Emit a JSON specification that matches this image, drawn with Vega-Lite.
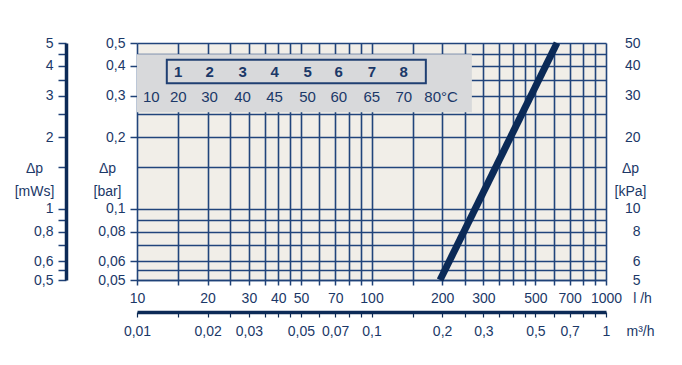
{
  "$schema": "https://vega.github.io/schema/vega-lite/v6.json",
  "width": 469,
  "height": 237,
  "autosize": {"type": "none"},
  "padding": {"left": 137, "top": 43, "right": 76, "bottom": 85},
  "background": "#ffffff",
  "config": {
    "font": "Liberation Sans",
    "view": {"fill": "#f1eee8", "stroke": null},
    "axis": {
      "labelFont": "Liberation Sans",
      "labelFontSize": 14,
      "labelColor": "#1b3868",
      "titleFont": "Liberation Sans",
      "titleFontSize": 14,
      "titleFontWeight": "normal",
      "titleColor": "#1b3868",
      "tickColor": "#1f4177",
      "domainColor": "#1f4177",
      "labelOverlap": false,
      "labelFlush": false,
      "labelBound": false
    }
  },
  "resolve": {"axis": {"x": "independent", "y": "independent"}},
  "layer": [
    {
      "data": {"values": [{"q1": 10, "q2": 268, "p1": 0.255, "p2": 0.448}]},
      "mark": {"type": "rect", "fill": "#d8d9db"},
      "encoding": {
        "x": {
          "field": "q1", "type": "quantitative",
          "scale": {"type": "log", "domain": [10, 1000], "nice": false},
          "axis": {
            "orient": "bottom",
            "values": [10,15,20,25,30,35,40,45,50,60,70,80,90,100,150,200,250,300,350,400,450,500,600,700,800,900,1000],
            "grid": true, "gridColor": "#21447b", "gridWidth": 1.6, "gridOpacity": 1,
            "domain": true, "domainWidth": 1.6,
            "ticks": true, "tickSize": 5, "tickWidth": 1.5,
            "labelBaseline": "middle", "labelPadding": 13,
            "labelExpr": "indexof([10,20,30,40,50,70,100,200,300,500,700,1000], datum.value) >= 0 ? format(datum.value, 'd') : ''",
            "title": "l /h", "titleX": 505, "titleY": 18, "titleBaseline": "middle", "titleAlign": "center"
          }
        },
        "x2": {"field": "q2"},
        "y": {
          "field": "p1", "type": "quantitative",
          "scale": {"type": "log", "domain": [0.05, 0.5], "nice": false},
          "axis": {
            "orient": "left",
            "values": [0.05,0.055,0.06,0.07,0.08,0.09,0.1,0.15,0.2,0.25,0.3,0.35,0.4,0.45,0.5],
            "grid": true, "gridColor": "#21447b", "gridWidth": 1.6, "gridOpacity": 1,
            "domain": false, "ticks": false, "labels": false, "title": null
          }
        },
        "y2": {"field": "p2"}
      }
    },
    {
      "data": {"values": [{"q1": 13.4, "q2": 170.5, "p1": 0.338, "p2": 0.425}]},
      "mark": {"type": "rect", "fill": null, "stroke": "#1f3f72", "strokeWidth": 2},
      "encoding": {
        "x": {
          "field": "q1", "type": "quantitative",
          "axis": {
            "orient": "bottom", "offset": 32,
            "values": [10,15,20,25,30,35,40,45,50,60,70,80,90,100,150,200,250,300,350,400,450,500,600,700,800,900,1000],
            "grid": false,
            "domain": true, "domainWidth": 3.5, "domainColor": "#0c2a56",
            "ticks": true, "tickSize": 5, "tickWidth": 1.2, "tickColor": "#0c2a56",
            "labelBaseline": "middle", "labelPadding": 14,
            "labelExpr": "indexof([10,20,30,50,70,100,200,300,500,700,1000], datum.value) >= 0 ? replace(format(datum.value/1000, '~g'), '.', ',') : ''",
            "title": "m³/h", "titleX": 503, "titleY": 19, "titleBaseline": "middle", "titleAlign": "center"
          }
        },
        "x2": {"field": "q2"},
        "y": {
          "field": "p1", "type": "quantitative",
          "axis": {
            "orient": "left",
            "values": [0.05,0.06,0.08,0.1,0.2,0.3,0.4,0.5],
            "grid": false, "domain": false,
            "ticks": true, "tickSize": 7, "tickWidth": 1.5,
            "labelPadding": 5, "labelBaseline": "middle",
            "labelExpr": "replace(format(datum.value, '~g'), '.', ',')",
            "title": ["Δp", "[bar]"], "titleAngle": 0, "titleX": -30, "titleY": 125,
            "titleBaseline": "middle", "titleAlign": "center", "titleLineHeight": 23
          }
        },
        "y2": {"field": "p2"}
      }
    },
    {
      "data": {"values": [
        {"label": "1", "q": 15.0, "p": 0.377},
        {"label": "2", "q": 20.4, "p": 0.377},
        {"label": "3", "q": 28.2, "p": 0.377},
        {"label": "4", "q": 38.6, "p": 0.377},
        {"label": "5", "q": 53.4, "p": 0.377},
        {"label": "6", "q": 72.5, "p": 0.377},
        {"label": "7", "q": 100.3, "p": 0.377},
        {"label": "8", "q": 137.3, "p": 0.377}
      ]},
      "mark": {"type": "text", "fontWeight": "bold", "fontSize": 15, "color": "#1b3868", "align": "center", "baseline": "middle"},
      "encoding": {
        "x": {"field": "q", "type": "quantitative", "axis": null},
        "y": {
          "field": "p", "type": "quantitative",
          "axis": {
            "orient": "left", "offset": 71,
            "values": [0.05,0.055,0.06,0.07,0.08,0.09,0.1,0.15,0.2,0.25,0.3,0.35,0.4,0.45,0.5],
            "grid": false,
            "domain": true, "domainWidth": 3.5, "domainColor": "#0c2a56",
            "ticks": true, "tickSize": 8, "tickWidth": 1.5, "tickColor": "#1f4177",
            "labelPadding": 5, "labelBaseline": "middle",
            "labelExpr": "indexof([0.05,0.06,0.08,0.1,0.2,0.3,0.4,0.5], datum.value) >= 0 ? replace(format(datum.value*10, '~g'), '.', ',') : ''",
            "title": ["Δp", "[mWs]"], "titleAngle": 0, "titleX": -32, "titleY": 125,
            "titleBaseline": "middle", "titleAlign": "center", "titleLineHeight": 23
          }
        },
        "text": {"field": "label"}
      }
    },
    {
      "data": {"values": [
        {"label": "10", "q": 11.5, "p": 0.296},
        {"label": "20", "q": 15.0, "p": 0.296},
        {"label": "30", "q": 20.4, "p": 0.296},
        {"label": "40", "q": 28.2, "p": 0.296},
        {"label": "45", "q": 38.6, "p": 0.296},
        {"label": "50", "q": 53.4, "p": 0.296},
        {"label": "60", "q": 72.5, "p": 0.296},
        {"label": "65", "q": 100.3, "p": 0.296},
        {"label": "70", "q": 137.3, "p": 0.296},
        {"label": "80°C", "q": 198, "p": 0.296}
      ]},
      "mark": {"type": "text", "fontSize": 15, "color": "#1b3868", "align": "center", "baseline": "middle"},
      "encoding": {
        "x": {"field": "q", "type": "quantitative", "axis": null},
        "y": {
          "field": "p", "type": "quantitative",
          "axis": {
            "orient": "right",
            "values": [0.05,0.06,0.08,0.1,0.2,0.3,0.4,0.5],
            "grid": false, "domain": false, "ticks": false, "tickSize": 0,
            "labelPadding": 34, "labelAlign": "right", "labelBaseline": "middle",
            "labelExpr": "format(datum.value*100, '~g')",
            "title": ["Δp", "[kPa]"], "titleAngle": 0, "titleX": 24, "titleY": 125,
            "titleBaseline": "middle", "titleAlign": "center", "titleLineHeight": 23
          }
        },
        "text": {"field": "label"}
      }
    },
    {
      "data": {"values": [
        {"q": 196, "p": 0.05},
        {"q": 618, "p": 0.5}
      ]},
      "mark": {"type": "line", "color": "#0b2a57", "strokeWidth": 7, "strokeCap": "butt"},
      "encoding": {
        "x": {"field": "q", "type": "quantitative", "axis": null},
        "y": {"field": "p", "type": "quantitative", "axis": null}
      }
    }
  ]
}
